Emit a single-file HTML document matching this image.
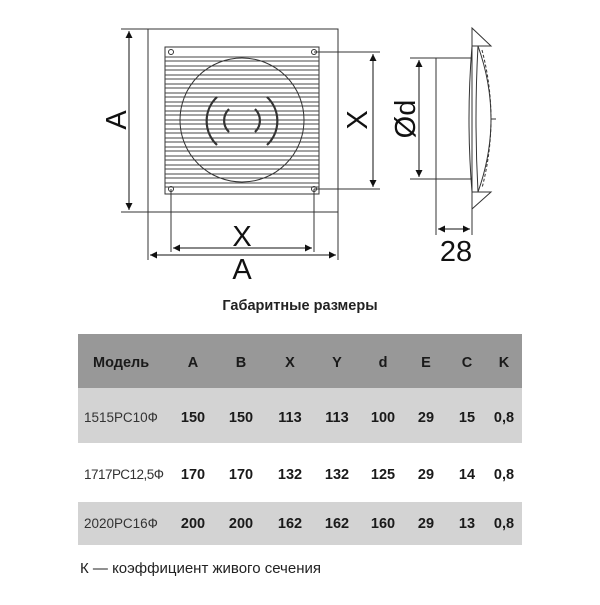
<!DOCTYPE html>
<html><head><meta charset="utf-8"><style>
body{margin:0;background:#fff;width:600px;height:600px;overflow:hidden;font-family:"Liberation Sans","DejaVu Sans",sans-serif;}
</style></head><body>
<svg width="600" height="600" viewBox="0 0 600 600" xmlns="http://www.w3.org/2000/svg">
<defs>
<marker id="ar" viewBox="0 0 10 10" refX="10" refY="5" markerWidth="9" markerHeight="7" orient="auto-start-reverse" markerUnits="userSpaceOnUse"><path d="M0,0 L10,5 L0,10 z" fill="#111"/></marker>
</defs>
<g stroke="#333" fill="none" stroke-width="1">
<rect x="148" y="29" width="190" height="183"/>
<rect x="165" y="47" width="154" height="147"/>
<g stroke="#444" stroke-width="1">
<line x1="165" y1="57" x2="319" y2="57"/><line x1="165" y1="61" x2="319" y2="61"/>
<line x1="165" y1="66" x2="319" y2="66"/><line x1="165" y1="70" x2="319" y2="70"/>
<line x1="165" y1="75" x2="319" y2="75"/><line x1="165" y1="79" x2="319" y2="79"/>
<line x1="165" y1="84" x2="319" y2="84"/><line x1="165" y1="88" x2="319" y2="88"/>
<line x1="165" y1="93" x2="319" y2="93"/><line x1="165" y1="97" x2="319" y2="97"/>
<line x1="165" y1="102" x2="319" y2="102"/><line x1="165" y1="106" x2="319" y2="106"/>
<line x1="165" y1="111" x2="319" y2="111"/><line x1="165" y1="115" x2="319" y2="115"/>
<line x1="165" y1="120" x2="319" y2="120"/><line x1="165" y1="124" x2="319" y2="124"/>
<line x1="165" y1="129" x2="319" y2="129"/><line x1="165" y1="133" x2="319" y2="133"/>
<line x1="165" y1="138" x2="319" y2="138"/><line x1="165" y1="142" x2="319" y2="142"/>
<line x1="165" y1="147" x2="319" y2="147"/><line x1="165" y1="151" x2="319" y2="151"/>
<line x1="165" y1="156" x2="319" y2="156"/><line x1="165" y1="160" x2="319" y2="160"/>
<line x1="165" y1="165" x2="319" y2="165"/><line x1="165" y1="169" x2="319" y2="169"/>
<line x1="165" y1="174" x2="319" y2="174"/><line x1="165" y1="178" x2="319" y2="178"/>
<line x1="165" y1="183" x2="319" y2="183"/><line x1="165" y1="187" x2="319" y2="187"/>
</g>
<circle cx="242" cy="120" r="62"/>
<g stroke-width="2.2">
<path d="M217,97 A33,33 0 0 0 217,145"/><path d="M267,97 A33,33 0 0 1 267,145"/>
<path d="M229,109 A16,16 0 0 0 229,132"/><path d="M255,109 A16,16 0 0 1 255,132"/>
</g>
<g stroke-width="1"><circle cx="171" cy="52" r="2.5"/><circle cx="314" cy="52" r="2.5"/><circle cx="171" cy="189" r="2.5"/><circle cx="314" cy="189" r="2.5"/></g>
<line x1="121" y1="29" x2="148" y2="29"/><line x1="121" y1="212" x2="148" y2="212"/>
<line x1="129" y1="31" x2="129" y2="210" stroke="#111" marker-start="url(#ar)" marker-end="url(#ar)"/>
<line x1="314" y1="52" x2="380" y2="52"/><line x1="314" y1="189" x2="380" y2="189"/>
<line x1="373" y1="54" x2="373" y2="187" stroke="#111" marker-start="url(#ar)" marker-end="url(#ar)"/>
<line x1="171" y1="189" x2="171" y2="252"/><line x1="314" y1="189" x2="314" y2="252"/>
<line x1="173" y1="248" x2="312" y2="248" stroke="#111" marker-start="url(#ar)" marker-end="url(#ar)"/>
<line x1="148" y1="212" x2="148" y2="260"/><line x1="338" y1="212" x2="338" y2="260"/>
<line x1="150" y1="255" x2="336" y2="255" stroke="#111" marker-start="url(#ar)" marker-end="url(#ar)"/>
<line x1="410" y1="58" x2="472" y2="58"/><line x1="410" y1="179" x2="472" y2="179"/>
<line x1="436" y1="58" x2="436" y2="235"/><line x1="472" y1="209" x2="472" y2="235"/>
<line x1="419" y1="60" x2="419" y2="177" stroke="#111" marker-start="url(#ar)" marker-end="url(#ar)"/>
<line x1="438" y1="229" x2="470" y2="229" stroke="#111" marker-start="url(#ar)" marker-end="url(#ar)"/>
<path d="M472,28 L491,46 L472,46 Z"/><path d="M472,209 L491,192 L472,192 Z"/>
<line x1="472" y1="28" x2="472" y2="209"/>
<path d="M472,46 Q466,119 472,192"/><path d="M478,46 Q474,119 478,192"/>
<path d="M478,46 Q504,119 478,192"/>
<path d="M482,50 Q500,119 482,188" stroke-dasharray="3,2"/>
<line x1="491" y1="119" x2="496" y2="119"/>
</g>
<g font-family="Liberation Sans, sans-serif" fill="#111" font-size="29">
<text transform="translate(126,120) rotate(-90)" text-anchor="middle">A</text>
<text transform="translate(367,120) rotate(-90)" text-anchor="middle">X</text>
<text transform="translate(415,119) rotate(-90)" text-anchor="middle">Ød</text>
<text x="242" y="246" text-anchor="middle">X</text>
<text x="242" y="279" text-anchor="middle">A</text>
<text x="456" y="261" text-anchor="middle">28</text>
</g>
<text x="300" y="310" text-anchor="middle" font-size="14.5" font-weight="bold" fill="#222">Габаритные размеры</text>
<rect x="78" y="334" width="444" height="54" fill="#989898"/>
<rect x="78" y="388" width="444" height="55" fill="#d3d3d3"/>
<rect x="78" y="502" width="444" height="43" fill="#d3d3d3"/>
<g font-size="14.5" fill="#1a1a1a" font-weight="bold">
<text x="93" y="367">Модель</text>
<g text-anchor="middle">
<text x="193" y="367">A</text><text x="241" y="367">B</text><text x="290" y="367">X</text><text x="337" y="367">Y</text><text x="383" y="367">d</text><text x="426" y="367">E</text><text x="467" y="367">C</text><text x="504" y="367">K</text>
<text x="193" y="422">150</text><text x="241" y="422">150</text><text x="290" y="422">113</text><text x="337" y="422">113</text><text x="383" y="422">100</text><text x="426" y="422">29</text><text x="467" y="422">15</text><text x="504" y="422">0,8</text>
<text x="193" y="479">170</text><text x="241" y="479">170</text><text x="290" y="479">132</text><text x="337" y="479">132</text><text x="383" y="479">125</text><text x="426" y="479">29</text><text x="467" y="479">14</text><text x="504" y="479">0,8</text>
<text x="193" y="528">200</text><text x="241" y="528">200</text><text x="290" y="528">162</text><text x="337" y="528">162</text><text x="383" y="528">160</text><text x="426" y="528">29</text><text x="467" y="528">13</text><text x="504" y="528">0,8</text>
</g></g>
<g font-size="13.5" fill="#333">
<text x="84" y="422">1515РС10Ф</text>
<text x="84" y="479" textLength="80">1717РС12,5Ф</text>
<text x="84" y="528">2020РС16Ф</text>
</g>
<text x="80" y="573" font-size="15" fill="#222">К — коэффициент живого сечения</text>
</svg>
</body></html>
